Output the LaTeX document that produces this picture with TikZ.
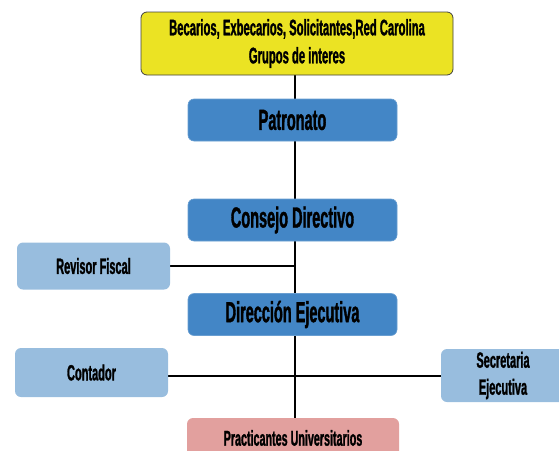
\documentclass[tikz,border=0pt]{standalone}
\usepackage{fontspec}
\setmainfont{Liberation Sans}[FakeStretch=0.5, BoldFeatures={FakeStretch=0.5, FakeBold=1.2}]
\usetikzlibrary{positioning, backgrounds}

\definecolor{grupoyellow}{RGB}{235,227,35}
\definecolor{cargoblue}{RGB}{67,134,198}
\definecolor{apoyoblue}{RGB}{152,189,222}
\definecolor{practpink}{RGB}{226,160,158}

\begin{document}
\begin{tikzpicture}[
  x=1pt, y=-1pt,
  box/.style={rounded corners=6pt, inner sep=0pt, align=center, font=\bfseries},
  grupo/.style={box, draw=black!75, fill=grupoyellow, line width=0.8pt,
    minimum width=312, minimum height=63, font=\bfseries\fontsize{22.5}{28}\selectfont},
  cargo/.style={box, draw=cargoblue!80!white, fill=cargoblue, line width=0.6pt,
    minimum width=209, minimum height=42, font=\bfseries\fontsize{29}{32}\selectfont},
  apoyo/.style={box, fill=apoyoblue, minimum width=153, minimum height=47,
    font=\bfseries\fontsize{22}{27}\selectfont},
  practica/.style={box, fill=practpink, minimum width=212, minimum height=40,
    font=\bfseries\fontsize{21.5}{24}\selectfont},
  edge/.style={draw=black, line width=2pt}
]
\useasboundingbox (0,0) rectangle (559,450);
\clip (0,0) rectangle (559,450);

% Grupos de interes
\node[grupo] (grupos) at (297,43.5) {Becarios, Exbecarios, Solicitantes,Red Carolina\\Grupos de interes};

% Main column
\node[cargo] (patronato) at (292.5,120) {Patronato};
\node[cargo] (consejo) at (292.5,220) {Consejo Directivo};
\node[cargo] (direccion) at (292.5,314.5) {Dirección Ejecutiva};
\node[practica] (practicantes) at (293,438) {Practicantes Universitarios};

% Staff
\node[apoyo] (revisor) at (93.5,266) {Revisor Fiscal};
\node[apoyo, minimum height=49] (contador) at (91.5,372.5) {Contador};
\node[apoyo, minimum width=124, minimum height=53] (secretaria) at (503,375.5) {Secretaria\\Ejecutiva};

% Connections
\begin{scope}[on background layer]
\draw[edge] (grupos.south -| 295,0) -- (practicantes.north -| 295,0);
\draw[edge] (revisor.east) -- (revisor.east -| 295,0);
\draw[edge] (contador.east |- 0,376) -- (secretaria.west |- 0,376);
\end{scope}

\end{tikzpicture}
\end{document}
